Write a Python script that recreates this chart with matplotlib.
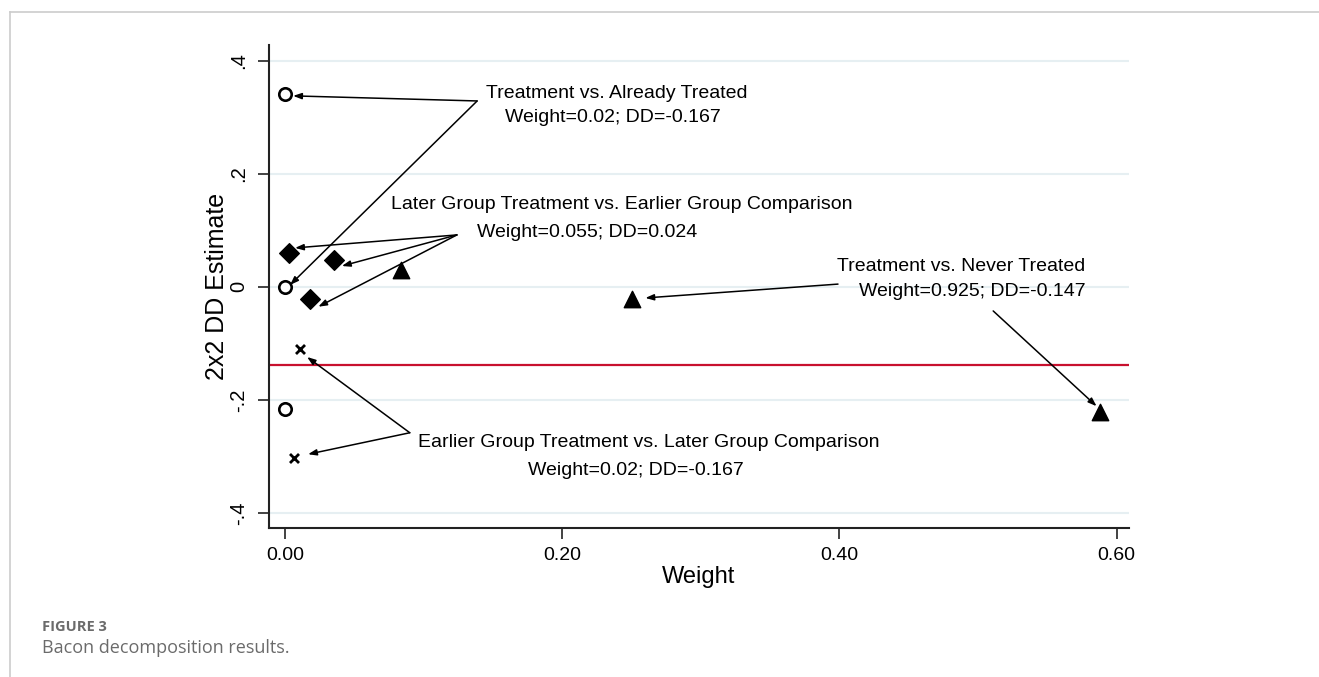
import matplotlib
matplotlib.use("Agg")
import matplotlib.pyplot as plt
from matplotlib.lines import Line2D

# ---- data ----
already_w = [0.0, 0.0, 0.0]
already_dd = [0.342, 0.0, -0.216]
later_w = [0.003, 0.035, 0.018]
later_dd = [0.060, 0.048, -0.021]
never_w = [0.084, 0.250, 0.588]
never_dd = [0.030, -0.021, -0.221]
earlier_w = [0.011, 0.0065]
earlier_dd = [-0.110, -0.303]
overall_dd = -0.138

xticks = [0.0, 0.2, 0.4, 0.6]
xtick_labels = ["0.00", "0.20", "0.40", "0.60"]
yticks = [-0.4, -0.2, 0.0, 0.2, 0.4]
ytick_labels = ["-.4", "-.2", "0", ".2", ".4"]

# annotations: (text lines), arrow anchor, arrow tips
ann_already = dict(lines=["Treatment vs. Already Treated", "Weight=0.02; DD=-0.167"],
                   pos=[(0.239, 0.343), (0.2368, 0.299)], ha="center",
                   anchors=[(0.1386, 0.329)] * 2,
                   tips=[(0.0058, 0.338), (0.0036, 0.0035)])
ann_later = dict(lines=["Later Group Treatment vs. Earlier Group Comparison", "Weight=0.055; DD=0.024"],
                 pos=[(0.2426, 0.145), (0.2177, 0.0956)], ha="center",
                 anchors=[(0.124, 0.092)] * 3,
                 tips=[(0.0072, 0.069), (0.041, 0.037), (0.024, -0.035)])
ann_never = dict(lines=["Treatment vs. Never Treated", "Weight=0.925; DD=-0.147"],
                 pos=[(0.5776, 0.0354), (0.5776, -0.0088)], ha="right",
                 anchors=[(0.399, 0.005), (0.511, -0.0425)],
                 tips=[(0.26, -0.0195), (0.5856, -0.211)])
ann_earlier = dict(lines=["Earlier Group Treatment vs. Later Group Comparison", "Weight=0.02; DD=-0.167"],
                   pos=[(0.2625, -0.276), (0.253, -0.324)], ha="center",
                   anchors=[(0.090, -0.258)] * 2,
                   tips=[(0.0159, -0.124), (0.0166, -0.296)])

plt.rcParams['font.family'] = ['Liberation Sans', 'DejaVu Sans']

fig = plt.figure(figsize=(13.19, 6.77), dpi=100)
ax = fig.add_axes([269 / 1319, 1 - 528 / 677, (1129 - 269) / 1319, (528 - 45) / 677])

ax.set_xlim(-0.0116, 0.609)
ax.set_ylim(-0.4265, 0.428)

# grid
for yv in yticks:
    ax.axhline(yv, color="#E6EFF2", lw=1.5, zorder=0)

# red overall line
ax.axhline(overall_dd, color="#C8102E", lw=1.6, zorder=1)

ax.scatter(already_w, already_dd, s=80, marker="o", facecolors="white",
           edgecolors="black", linewidths=1.9, zorder=3)
ax.scatter(later_w, later_dd, s=100, marker="D", color="black", zorder=3)
ax.scatter(never_w, never_dd, s=140, marker="^", color="black", zorder=3)
ax.scatter(earlier_w, earlier_dd, s=42, marker="x", color="black", linewidths=2, zorder=3)

for ann in [ann_already, ann_later, ann_never, ann_earlier]:
    for line, (tx, ty) in zip(ann["lines"], ann["pos"]):
        ax.text(tx, ty, line, ha=ann["ha"], va="center", fontsize=14, color="black", zorder=4)
    for (axx, ayy), (bx, by) in zip(ann["anchors"], ann["tips"]):
        ax.annotate("", xy=(bx, by), xytext=(axx, ayy),
                    arrowprops=dict(arrowstyle="-|>,head_length=0.5,head_width=0.18",
                                    mutation_scale=10, lw=1.1, color="black",
                                    shrinkA=0, shrinkB=0), zorder=4)

for side in ["top", "right"]:
    ax.spines[side].set_visible(False)
for side in ["left", "bottom"]:
    ax.spines[side].set_linewidth(1.5)
    ax.spines[side].set_color("#222222")

ax.set_xticks(xticks)
ax.set_xticklabels(xtick_labels, fontsize=14)
ax.set_yticks(yticks)
ax.set_yticklabels(ytick_labels, fontsize=14.5, rotation=90, va="center")
ax.tick_params(axis="both", length=8, width=1.2, color="#222222", pad=7)
ax.tick_params(axis="x", pad=6)

ax.set_xlabel("Weight", fontsize=17, labelpad=1)
ax.set_ylabel("2x2 DD Estimate", fontsize=18, labelpad=0)

# page frame lines
fig.add_artist(Line2D([9.5 / 1319, 1.0], [1 - 12 / 677, 1 - 12 / 677], color="#CCCCCC", lw=1.2))
fig.add_artist(Line2D([9.5 / 1319, 9.5 / 1319], [0.0, 1 - 12 / 677], color="#CCCCCC", lw=1.2))

# caption
fig.text(42 / 1319, 1 - 627 / 677, "FIGURE 3", fontsize=10.5, fontweight="bold",
         color="#6B6B6B", family=["Open Sans", "DejaVu Sans"], va="center")
fig.text(42 / 1319, 1 - 648 / 677, "Bacon decomposition results.", fontsize=13,
         color="#6B6B6B", family=["Open Sans", "DejaVu Sans"], va="center")

fig.savefig("out.png", dpi=100)
